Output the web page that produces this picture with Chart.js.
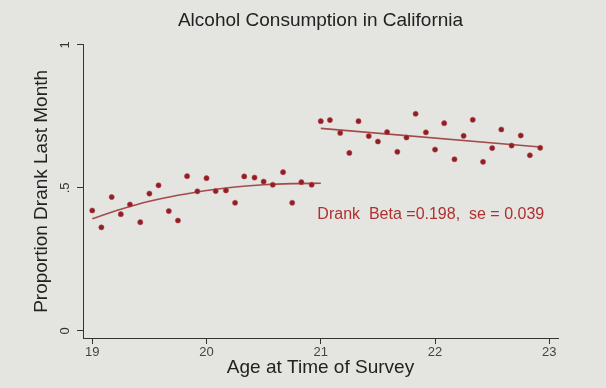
<!DOCTYPE html>
<html>
<head>
<meta charset="utf-8">
<script src="https://cdn.jsdelivr.net/npm/chart.js@4"></script>
<style>
  html, body { margin: 0; padding: 0; background: #e4e5e1; }
</style>
</head>
<body>
<canvas id="chart" width="606" height="388"></canvas>
<script>
// monthly ages (years) and proportion who drank last month
const agesBefore = [19.00, 19.08, 19.17, 19.25, 19.33, 19.42, 19.50, 19.58, 19.67, 19.75, 19.83, 19.92,
                    20.00, 20.08, 20.17, 20.25, 20.33, 20.42, 20.50, 20.58, 20.67, 20.75, 20.83, 20.92];
const drankBefore = [0.421, 0.362, 0.468, 0.408, 0.442, 0.380, 0.480, 0.509, 0.419, 0.386, 0.541, 0.488,
                     0.534, 0.489, 0.491, 0.448, 0.540, 0.536, 0.522, 0.511, 0.555, 0.448, 0.520, 0.511];
const agesAfter = [21.00, 21.08, 21.17, 21.25, 21.33, 21.42, 21.50, 21.58, 21.67, 21.75, 21.83, 21.92,
                   22.00, 22.08, 22.17, 22.25, 22.33, 22.42, 22.50, 22.58, 22.67, 22.75, 22.83, 22.92];
const drankAfter = [0.733, 0.737, 0.692, 0.622, 0.733, 0.681, 0.662, 0.695, 0.626, 0.676, 0.759, 0.694,
                    0.634, 0.726, 0.600, 0.682, 0.738, 0.591, 0.639, 0.704, 0.648, 0.683, 0.614, 0.640];

// fitted curves
const fitAgesBefore = [19.0, 19.25, 19.5, 19.75, 20.0, 20.25, 20.5, 20.75, 21.0];
const fitBefore = [0.392, 0.425, 0.453, 0.474, 0.491, 0.503, 0.511, 0.515, 0.516];
const fitAgesAfter = [21.0, 22.92];
const fitAfter = [0.708, 0.643];

const xTicks = [19, 20, 21, 22, 23];
const yTicks = [0, 0.5, 1];
const yTickLabels = ['0', '.5', '1'];
const note = 'Drank  Beta =0.198,  se = 0.039';

const FONT = '"Liberation Sans", Arial, sans-serif';
const pts = (xs, ys) => xs.map((x, i) => ({ x: x, y: ys[i] }));

const bgPlugin = {
  id: 'bg',
  beforeDraw(chart) {
    const ctx = chart.ctx;
    ctx.save();
    ctx.fillStyle = '#e4e5e1';
    ctx.fillRect(0, 0, chart.width, chart.height);
    ctx.restore();
  }
};

const extrasPlugin = {
  id: 'extras',
  afterDraw(chart) {
    const ctx = chart.ctx;
    const y = chart.scales.y, x = chart.scales.x;
    ctx.save();
    ctx.fillStyle = '#333';
    ctx.font = '13px ' + FONT;
    ctx.textAlign = 'center';
    ctx.textBaseline = 'middle';
    yTicks.forEach((v, i) => {
      ctx.save();
      ctx.translate(y.left + 65, y.getPixelForValue(v));
      ctx.rotate(-Math.PI / 2);
      ctx.fillText(yTickLabels[i], 0, 0);
      ctx.restore();
    });
    ctx.fillStyle = '#b0302f';
    ctx.font = '16px ' + FONT;
    ctx.textAlign = 'left';
    ctx.fillText(note, x.getPixelForValue(20.97), y.getPixelForValue(0.408));
    ctx.restore();
  }
};

new Chart(document.getElementById('chart'), {
  type: 'scatter',
  data: {
    datasets: [
      {
        data: pts(agesBefore, drankBefore),
        pointRadius: 2.6,
        pointBackgroundColor: '#8e1f26',
        pointBorderColor: 'rgba(190,70,75,0.7)',
        pointBorderWidth: 0.8,
        order: 0
      },
      {
        data: pts(agesAfter, drankAfter),
        pointRadius: 2.6,
        pointBackgroundColor: '#8e1f26',
        pointBorderColor: 'rgba(190,70,75,0.7)',
        pointBorderWidth: 0.8,
        order: 0
      },
      {
        data: pts(fitAgesBefore, fitBefore),
        showLine: true,
        pointRadius: 0,
        borderColor: '#a34a4a',
        borderWidth: 1.6,
        cubicInterpolationMode: 'monotone',
        order: 1
      },
      {
        data: pts(fitAgesAfter, fitAfter),
        showLine: true,
        pointRadius: 0,
        borderColor: '#a34a4a',
        borderWidth: 1.6,
        order: 1
      }
    ]
  },
  options: {
    responsive: false,
    animation: false,
    layout: { padding: { right: 48 } },
    plugins: {
      legend: { display: false },
      tooltip: { enabled: false },
      title: {
        display: true,
        fullSize: false,
        text: 'Alcohol Consumption in California',
        color: '#222',
        font: { family: FONT, size: 19, weight: 'normal' },
        padding: { top: 9, bottom: 13 }
      }
    },
    scales: {
      x: {
        type: 'linear',
        min: 18.919,
        max: 23.076,
        afterBuildTicks: s => { s.ticks = xTicks.map(v => ({ value: v })); },
        afterFit: s => { s.height = 50; },
        grid: { drawOnChartArea: false, drawTicks: true, tickLength: 6, color: '#333' },
        border: { display: true, color: '#333', width: 1 },
        ticks: {
          color: '#444',
          padding: 1,
          font: { family: FONT, size: 13 },
          callback: v => String(v)
        },
        title: {
          display: true,
          text: 'Age at Time of Survey',
          color: '#222',
          font: { family: FONT, size: 19 },
          padding: { top: 0, bottom: 9 }
        }
      },
      y: {
        type: 'linear',
        min: -0.0246,
        max: 1,
        afterBuildTicks: s => { s.ticks = yTicks.map(v => ({ value: v })); },
        afterFit: s => { s.width = 83; },
        grid: { drawOnChartArea: false, drawTicks: true, tickLength: 6, color: '#333' },
        border: { display: true, color: '#333', width: 1 },
        ticks: { display: false },
        title: {
          display: true,
          text: 'Proportion Drank Last Month',
          color: '#222',
          font: { family: FONT, size: 19 },
          padding: { top: 30, bottom: 0 }
        }
      }
    }
  },
  plugins: [bgPlugin, extrasPlugin]
});
</script>
</body>
</html>
